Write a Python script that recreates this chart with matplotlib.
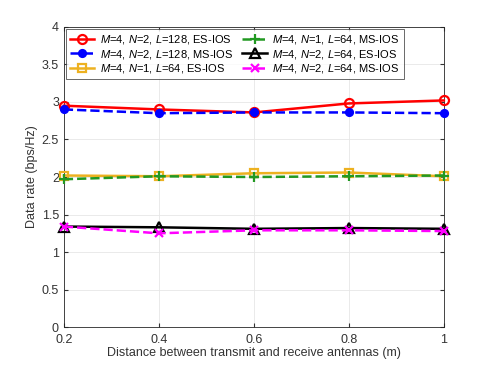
import matplotlib.pyplot as plt
import numpy as np

plt.rcParams['font.family'] = ['Liberation Sans', 'DejaVu Sans']
plt.rcParams['mathtext.fontset'] = 'custom'
plt.rcParams['mathtext.it'] = 'Liberation Sans:italic'
plt.rcParams['mathtext.rm'] = 'Liberation Sans'

distance = [0.2, 0.4, 0.6, 0.8, 1.0]
es_n2_l128 = [2.95, 2.90, 2.86, 2.98, 3.02]
ms_n2_l128 = [2.90, 2.85, 2.86, 2.86, 2.85]
es_n1_l64 = [2.02, 2.01, 2.05, 2.06, 2.01]
ms_n1_l64 = [1.97, 2.01, 2.00, 2.01, 2.02]
es_n2_l64 = [1.34, 1.33, 1.31, 1.32, 1.31]
ms_n2_l64 = [1.34, 1.25, 1.29, 1.29, 1.28]

labels = [r"$M$=4, $N$=2, $L$=128, ES-IOS",
          r"$M$=4, $N$=2, $L$=128, MS-IOS",
          r"$M$=4, $N$=1, $L$=64, ES-IOS",
          r"$M$=4, $N$=1, $L$=64, MS-IOS",
          r"$M$=4, $N$=2, $L$=64, ES-IOS",
          r"$M$=4, $N$=2, $L$=64, MS-IOS"]
series = [es_n2_l128, ms_n2_l128, es_n1_l64, ms_n1_l64, es_n2_l64, ms_n2_l64]
colors = ['#ff0000', '#0000ff', '#edb120', '#229922', '#000000', '#ff00ff']
markers = ['o', 'o', 's', '+', '^', 'x']
msizes = [6.5, 5, 6, 7, 6.5, 6]
linestyles = ['-', '--', '-', '--', '-', '--']
fills = ['none', 'full', 'none', 'full', 'none', 'full']

fig = plt.figure(figsize=(4.91, 3.68), dpi=100)
ax = fig.add_axes([0.130, 0.111, 0.774, 0.816])

for y, c, m, s, ls, f, lab in zip(series, colors, markers, msizes, linestyles, fills, labels):
    ax.plot(distance, y, color=c, marker=m, ls=ls, lw=1.8, ms=s,
            fillstyle=f, mew=1.6, label=lab, clip_on=False, zorder=3)

ax.set_xlim(0.2, 1.0)
ax.set_ylim(0, 4)
ax.set_xticks([0.2, 0.4, 0.6, 0.8, 1.0])
ax.set_xticklabels(['0.2', '0.4', '0.6', '0.8', '1'])
ax.set_yticks(np.arange(0, 4.01, 0.5))
ax.set_yticklabels(['0', '0.5', '1', '1.5', '2', '2.5', '3', '3.5', '4'])
ax.grid(True, color='#e6e6e6', lw=0.6)
ax.set_axisbelow(True)
ax.tick_params(direction='in', length=3, labelsize=9, colors='#333333', top=True, right=True,
               labeltop=False, labelright=False)
ax.tick_params(axis='x', pad=5)
for s in ax.spines.values():
    s.set_color('#262626')
    s.set_linewidth(0.6)

ax.set_xlabel('Distance between transmit and receive antennas (m)', fontsize=9, color='#333333', labelpad=1)
ax.set_ylabel('Data rate (bps/Hz)', fontsize=9, color='#333333', labelpad=3)

leg = ax.legend(loc='upper left', ncol=2, fontsize=8, frameon=True, fancybox=False,
                edgecolor='#262626', handlelength=2.2, columnspacing=0.8, handletextpad=0.5,
                labelspacing=0.15, borderpad=0.35, borderaxespad=0.2)
leg.get_frame().set_linewidth(0.6)

fig.savefig('out.png', dpi=100)
